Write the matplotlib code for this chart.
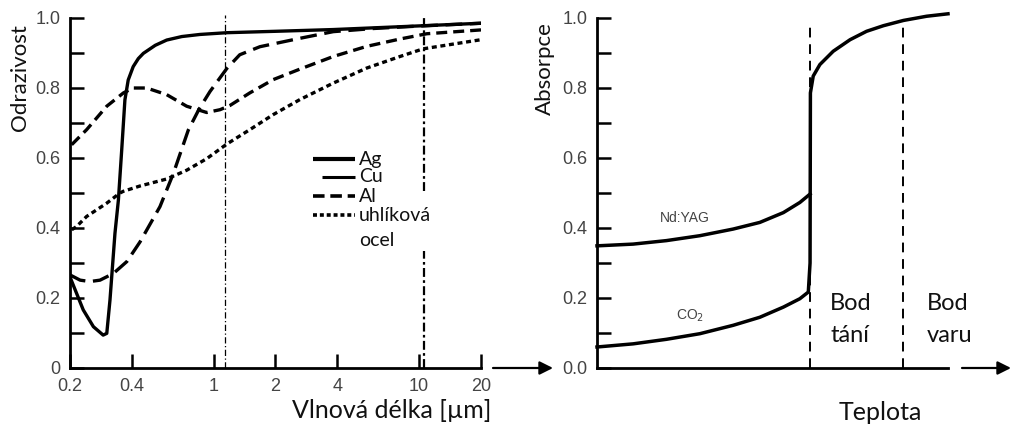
import matplotlib
matplotlib.use("Agg")
import matplotlib.pyplot as plt

# left panel: reflectivity vs wavelength (um)
ag_x = [0.2, 0.232, 0.26, 0.29, 0.302, 0.313, 0.331, 0.344, 0.357, 0.370, 0.384, 0.406,
        0.43, 0.455, 0.52, 0.591, 0.7, 0.858, 1.16, 2.0, 3.82, 8.0, 20]
ag_y = [0.26, 0.166, 0.118, 0.094, 0.099, 0.194, 0.385, 0.48, 0.623, 0.766, 0.823, 0.861,
        0.884, 0.899, 0.922, 0.937, 0.947, 0.953, 0.958, 0.962, 0.967, 0.975, 0.985]

al_x = [0.2038, 0.241, 0.302, 0.364, 0.406, 0.472, 0.591, 0.739, 0.925, 1.074, 1.20, 1.50,
        1.95, 2.63, 3.82, 5.56, 8.07, 10.9, 20]
al_y = [0.638, 0.681, 0.748, 0.786, 0.80, 0.80, 0.781, 0.748, 0.730, 0.738, 0.75, 0.786,
        0.824, 0.854, 0.89, 0.919, 0.94, 0.955, 0.966]

cu_x = [0.2, 0.224, 0.25, 0.28, 0.325, 0.378, 0.438, 0.548, 0.637, 0.753, 0.85, 0.96,
        1.16, 1.34, 1.68, 2.63, 3.82, 6.0, 10.0, 20]
cu_y = [0.266, 0.251, 0.247, 0.251, 0.27, 0.304, 0.36, 0.461, 0.556, 0.68, 0.74, 0.79,
        0.856, 0.895, 0.918, 0.942, 0.961, 0.97, 0.977, 0.985]

steel_x = [0.204, 0.215, 0.241, 0.302, 0.35, 0.364, 0.438, 0.591, 0.739, 0.925, 1.16, 1.50,
           1.95, 2.63, 3.82, 5.56, 8.07, 10.47, 20]
steel_y = [0.395, 0.404, 0.433, 0.471, 0.50, 0.505, 0.52, 0.54, 0.565, 0.598, 0.64, 0.681,
           0.724, 0.767, 0.814, 0.857, 0.89, 0.912, 0.938]

x_ticks = [0.2, 0.4, 1, 2, 4, 10, 20]
x_ticklabels = ["0.2", "0.4", "1", "2", "4", "10", "20"]
left_yticks = [0, 0.2, 0.4, 0.6, 0.8, 1.0]
left_yticklabels = ["0", "0.2", "0.4", "0.6", "0.8", "1.0"]
laser_lines = [1.13, 10.6]

# right panel: absorption vs temperature (relative units)
yag_x = [0.0, 0.103, 0.198, 0.293, 0.388, 0.464, 0.531, 0.578, 0.607]
yag_y = [0.349, 0.354, 0.364, 0.378, 0.397, 0.416, 0.444, 0.473, 0.497]

co2_x = [0.0, 0.103, 0.198, 0.293, 0.388, 0.464, 0.531, 0.578, 0.602, 0.607, 0.608,
         0.616, 0.635, 0.673, 0.721, 0.768, 0.816, 0.873, 0.939, 1.0]
co2_y = [0.06, 0.069, 0.082, 0.098, 0.122, 0.145, 0.174, 0.198, 0.217, 0.3, 0.786,
         0.834, 0.867, 0.905, 0.938, 0.962, 0.978, 0.993, 1.005, 1.012]

right_yticks = [0, 0.2, 0.4, 0.6, 0.8, 1.0]
right_yticklabels = ["0.0", "0.2", "0.4", "0.6", "0.8", "1.0"]
melt_x = 0.607
boil_x = 0.872

tick_font = "Liberation Sans"
label_font = "Lato"
grey = "#444444"
dark = "#111111"

fig = plt.figure(figsize=(10.12, 4.25), dpi=100)

ax1 = fig.add_axes([70 / 1012, 57 / 425, 411 / 1012, 350 / 425])
ax1.set_xscale("log")
ax1.plot(ag_x, ag_y, color="k", lw=2.4, solid_capstyle="butt")
ax1.plot(al_x, al_y, color="k", lw=2.4, dashes=(3.3, 1.8))
ax1.plot(cu_x, cu_y, color="k", lw=2.4, dashes=(5.0, 2.3))
ax1.plot(steel_x, steel_y, color="k", lw=2.4, dashes=(1.5, 1.1))

ax1.plot([laser_lines[0]] * 2, [0, 1.01], color="k", lw=0.9,
         dashes=(5, 2, 1, 2), clip_on=False)
ax1.plot([laser_lines[1]] * 2, [0, 0.335], color="k", lw=1.6,
         dashes=(4, 1.5, 1.2, 1.5), clip_on=False)
ax1.plot([laser_lines[1]] * 2, [0.505, 1.01], color="k", lw=1.6,
         dashes=(4, 1.5, 1.2, 1.5), clip_on=False)

ax1.set_xlim(0.2, 20)
ax1.set_ylim(0, 1.0)
ax1.set_xticks(x_ticks)
ax1.set_xticklabels(x_ticklabels)
ax1.minorticks_off()
ax1.set_yticks(left_yticks)
ax1.set_yticklabels(left_yticklabels)
ax1.set_yticks([0.1, 0.3, 0.5, 0.7, 0.9], minor=True)

# legend drawn by hand
leg_y = [0.597, 0.546, 0.491, 0.437]
leg_x0 = [313, 322, 313, 313]
leg_styles = [dict(lw=3.0), dict(lw=2.2), dict(lw=2.6, dashes=(3.2, 1.6)),
              dict(lw=2.6, dashes=(1.1, 0.8))]
leg_names = ["Ag", "Cu", "Al", "uhlíková"]
for y, x0, st, name in zip(leg_y, leg_x0, leg_styles, leg_names):
    xa = (x0 - 70) / 411
    xb = (355 - 70) / 411
    ax1.plot([xa, xb], [y, y], color="k", transform=ax1.transAxes,
             solid_capstyle="butt", **st)
    ax1.text((359 - 70) / 411, y, name, transform=ax1.transAxes, fontsize=14,
             family=label_font, va="center", ha="left", color=dark)
ax1.text((359 - 70) / 411, 0.365, "ocel", transform=ax1.transAxes, fontsize=14,
         family=label_font, va="center", ha="left", color=dark)

ax1.set_ylabel("Odrazivost", fontsize=16, family=label_font, color=dark)
ax1.yaxis.set_label_coords(-0.097, 0.83)
ax1.set_xlabel("Vlnová délka [µm]", fontsize=18, family=label_font, color=dark, va="center")
ax1.xaxis.set_label_coords(0.783, -0.12)

ax2 = fig.add_axes([597 / 1012, 57 / 425, 351 / 1012, 350 / 425])
ax2.plot(yag_x, yag_y, color="k", lw=2.5, clip_on=False)
ax2.plot(co2_x, co2_y, color="k", lw=2.5, clip_on=False)
for xv in [melt_x, boil_x]:
    ax2.plot([xv, xv], [0, 0.99], color="k", lw=1.4, dashes=(5, 3.5))
ax2.set_xlim(0, 1)
ax2.set_ylim(0, 1.0)
ax2.set_xticks([])
ax2.set_yticks(right_yticks)
ax2.set_yticklabels(right_yticklabels)
ax2.set_yticks([0.1, 0.3, 0.5, 0.7, 0.9], minor=True)

ax2.text(0.251, 0.43, "Nd:YAG", fontsize=10, family=tick_font, color=grey,
         ha="center", va="center")
ax2.text(0.265, 0.15, "CO$_2$", fontsize=10, family=tick_font, color=grey,
         ha="center", va="center")
for xt, word in [(0.664, "tání"), (0.939, "varu")]:
    ax2.text(xt, 0.183, "Bod", fontsize=17, family=label_font, color=dark,
             ha="left", va="center")
    ax2.text(xt, 0.093, word, fontsize=17, family=label_font, color=dark,
             ha="left", va="center")

ax2.set_ylabel("Absorpce", fontsize=16, family=label_font, color=dark)
ax2.yaxis.set_label_coords(-0.12, 0.855)
ax2.set_xlabel("Teplota", fontsize=18, family=label_font, color=dark, va="center")
ax2.xaxis.set_label_coords((880 - 597) / 351, -0.126)

for ax in (ax1, ax2):
    for s in ("top", "right"):
        ax.spines[s].set_visible(False)
    for s in ("left", "bottom"):
        ax.spines[s].set_linewidth(2.0)
    ax.tick_params(which="both", direction="in", length=10, width=1.8, color="k",
                   labelsize=13, labelcolor=grey, pad=7)
    for lab in ax.get_xticklabels() + ax.get_yticklabels():
        lab.set_family(tick_font)

# arrows along the temperature axis
fig.add_artist(matplotlib.patches.FancyArrowPatch(
    (493 / 1012, 57 / 425), (553 / 1012, 57 / 425), transform=fig.transFigure,
    arrowstyle="-|>", mutation_scale=20, lw=1.6, color="k", shrinkA=0, shrinkB=0))
fig.add_artist(matplotlib.patches.FancyArrowPatch(
    (962 / 1012, 57 / 425), (1011 / 1012, 57 / 425), transform=fig.transFigure,
    arrowstyle="-|>", mutation_scale=20, lw=1.6, color="k", shrinkA=0, shrinkB=0))

fig.savefig("out.png", dpi=100)
